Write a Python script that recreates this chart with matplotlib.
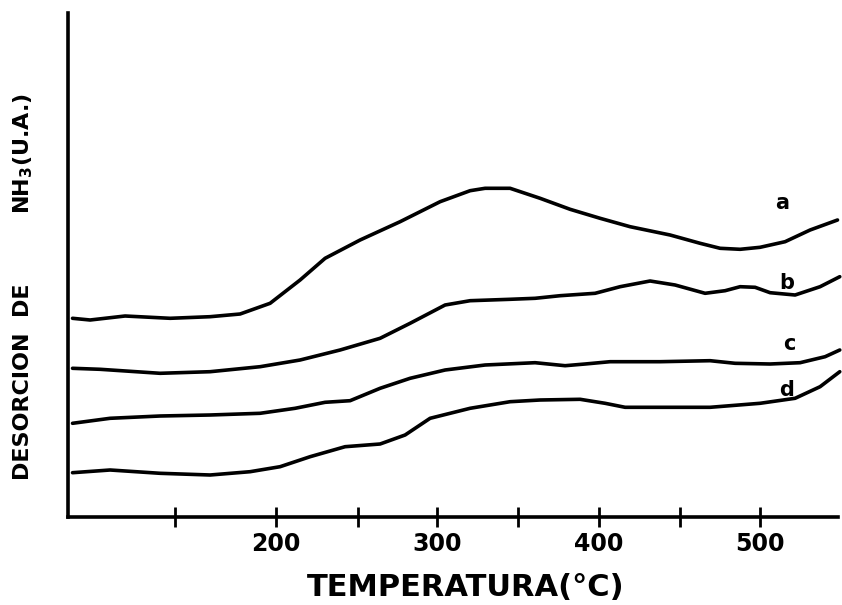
import matplotlib
matplotlib.use("Agg")
import matplotlib.pyplot as plt

# Temperature (°C) and desorption signal (arbitrary units)
temp_a = [73.8, 84.7, 106.4, 134.3, 159.1, 177.7, 196.3, 214.9, 230.4, 252.1, 276.9,
          301.7, 320.3, 329.6, 345.1, 363.7, 382.3, 400.9, 419.5, 444.3, 462.9,
          475.3, 487.7, 500.1, 515.6, 531.1, 548.1]
sig_a = [198.7, 197.0, 201.0, 198.7, 200.3, 203.0, 213.7, 237.0, 258.7, 277.0, 295.3,
         315.3, 326.3, 328.7, 328.7, 318.7, 307.7, 298.7, 290.3, 282.0, 273.7,
         268.7, 267.7, 269.7, 275.3, 287.0, 297.0]

temp_b = [73.8, 90.9, 128.1, 159.1, 190.1, 214.9, 239.7, 264.5, 283.1, 304.8, 320.3,
          345.1, 360.6, 376.1, 397.8, 413.3, 431.9, 447.4, 466.0, 478.4, 487.7,
          497.0, 506.3, 521.8, 537.3, 549.5]
sig_b = [148.7, 147.7, 143.7, 145.3, 150.3, 157.0, 167.0, 178.7, 193.7, 212.0, 216.3,
         217.7, 218.7, 221.3, 223.7, 230.3, 236.0, 232.0, 223.7, 226.3, 230.3,
         229.7, 224.3, 222.0, 230.3, 240.3]

temp_c = [73.8, 97.1, 128.1, 159.1, 190.1, 211.8, 230.4, 245.9, 264.5, 283.1, 304.8,
          329.6, 360.6, 379.2, 391.6, 407.1, 438.1, 469.1, 484.6, 506.3, 524.9,
          540.4, 549.5]
sig_c = [93.7, 98.7, 101.0, 102.0, 103.7, 108.7, 114.7, 116.3, 128.7, 138.7, 147.0,
         152.0, 154.3, 151.3, 153.0, 155.3, 155.3, 156.3, 153.7, 153.0, 154.3,
         160.3, 167.0]

temp_d = [73.8, 97.1, 128.1, 159.1, 183.9, 202.5, 221.1, 242.8, 264.5, 280.0, 295.5,
          320.3, 345.1, 363.7, 388.5, 404.0, 416.4, 438.1, 469.1, 500.1, 521.8,
          537.3, 549.5]
sig_d = [44.3, 47.0, 43.7, 42.0, 45.3, 50.3, 60.3, 70.3, 73.0, 82.0, 98.7,
         108.7, 115.3, 117.0, 117.7, 113.7, 109.7, 109.7, 109.7, 113.7, 118.7,
         130.3, 145.3]

curve_names = ["a", "b", "c", "d"]
label_temp = [513.7, 516.8, 518.0, 516.8]
label_sig = [314, 234, 173, 127]

tick_pos = [137.4, 200, 250.5, 300, 350.3, 400, 450.2, 500]
tick_lab = ["", "200", "", "300", "", "400", "", "500"]

fig = plt.figure(figsize=(8.42, 6.05), dpi=100)
ax = fig.add_axes([68 / 842, 88 / 605, (838 - 68) / 842, 504 / 605])

for t, s in [(temp_a, sig_a), (temp_b, sig_b), (temp_c, sig_c), (temp_d, sig_d)]:
    ax.plot(t, s, color="black", lw=2.6, solid_joinstyle="round",
            solid_capstyle="round", clip_on=False)

for n, t, s in zip(curve_names, label_temp, label_sig):
    ax.text(t, s, n, fontsize=15, fontweight="bold", ha="center", va="center",
            family="DejaVu Sans")

ax.set_xlim(71.0, 548.4)
ax.set_ylim(0, 504)

for side in ["top", "right"]:
    ax.spines[side].set_visible(False)
for side in ["left", "bottom"]:
    ax.spines[side].set_linewidth(2.6)

ax.set_xticks(tick_pos)
ax.set_xticklabels(tick_lab)
ax.tick_params(axis="x", direction="inout", length=14, width=2, pad=4,
               labelsize=17)
for lab in ax.get_xticklabels():
    lab.set_fontweight("bold")
ax.set_yticks([])

fig.text(466 / 842, 1 - 588 / 605, "TEMPERATURA(°C)", fontsize=22,
         fontweight="bold", ha="center", va="center")
fig.text(23 / 842, 1 - 382 / 605, "DESORCION  DE", rotation=90, fontsize=16,
         fontweight="bold", ha="center", va="center")
fig.text(23 / 842, 1 - 154 / 605, "NH$_\\mathbf{3}$(U.A.)", rotation=90,
         fontsize=16, fontweight="bold", ha="center", va="center")

fig.savefig("out.png", dpi=100, facecolor="white")
